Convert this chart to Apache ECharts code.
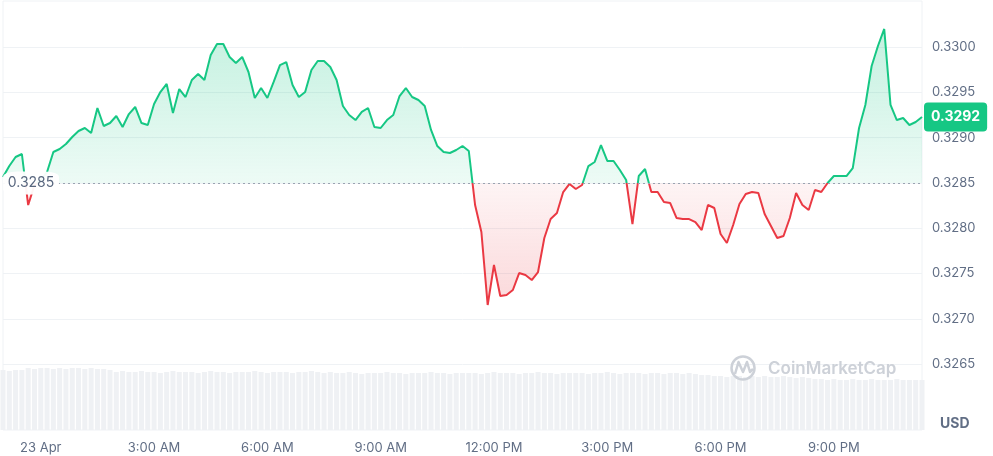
<!DOCTYPE html>
<html>
<head>
<meta charset="utf-8">
<script src="https://cdn.jsdelivr.net/npm/echarts@6/dist/echarts.min.js"></script>
<style>
html,body{margin:0;padding:0;background:#fff;}
#c{width:993px;height:456px;}
</style>
</head>
<body>
<div id="c"></div>
<script>
// ---- data ----
const prices = [
0.328565,0.328686,0.328786,0.328819,0.328256,0.328477,0.328532,0.328620,0.328841,0.328874,
0.328929,0.329007,0.329073,0.329106,0.329051,0.329327,0.329128,0.329161,0.329238,0.329117,
0.329260,0.329338,0.329161,0.329139,0.329371,0.329503,0.329592,0.329271,0.329536,0.329448,
0.329636,0.329702,0.329636,0.329912,0.330033,0.330033,0.329890,0.329823,0.329890,0.329724,
0.329437,0.329547,0.329437,0.329614,0.329801,0.329834,0.329581,0.329448,0.329503,0.329746,
0.329845,0.329845,0.329779,0.329636,0.329349,0.329249,0.329194,0.329283,0.329327,0.329117,
0.329106,0.329194,0.329249,0.329459,0.329547,0.329448,0.329415,0.329349,0.329084,0.328907,
0.328841,0.328830,0.328863,0.328907,0.328852,0.328256,0.327958,0.327152,0.327594,0.327252,
0.327263,0.327318,0.327505,0.327483,0.327428,0.327516,0.327892,0.328101,0.328168,0.328399,
0.328488,0.328433,0.328477,0.328686,0.328731,0.328918,0.328742,0.328742,0.328642,0.328532,
0.328046,0.328576,0.328653,0.328399,0.328399,0.328289,0.328278,0.328113,0.328101,0.328101,
0.328068,0.327980,0.328256,0.328223,0.327936,0.327837,0.328035,0.328267,0.328377,0.328399,
0.328388,0.328157,0.328024,0.327892,0.327914,0.328113,0.328388,0.328256,0.328201,0.328422,
0.328399,0.328499,0.328576,0.328576,0.328576,0.328664,0.329106,0.329360,0.329790,0.330011,
0.330199,0.329360,0.329194,0.329216,0.329139,0.329172,0.329227
];
const volumes = [
60,59,60,60,
62,61,62,62,61,62,61,62,62,61,62,61,61,60,
58,59,58,58,59,58,58,57,58,59,58,58,58,57,58,59,58,58,57,58,58,58,59,58,57,58,58,58,57,58,58,59,58,57,58,
57,57,58,57,56,57,57,57,58,57,57,56,57,57,57,58,57,57,56,57,57,57,57,56,57,58,57,57,57,56,
57,57,58,57,57,56,57,57,57,57,56,57,57,58,57,56,57,57,57,56,57,57,56,57,57,56,57,56,55,
55,54,54,53,54,54,53,54,53,54,53,53,54,53,52,53,
52,51,51,50,51,50,50,51,50,50,51,50,50,50,51,50,50,50,50
];
const basePrice = 0.3285;
const yTicksMin = 0.3260, yTicksMax = 0.3305, yInterval = 0.0005;
const xTickCategories = ['04-23 00:00','04-23 03:00','04-23 06:00','04-23 09:00','04-23 12:00','04-23 15:00','04-23 18:00','04-23 21:00'];
const xTickLabels = ['23 Apr','3:00 AM','6:00 AM','9:00 AM','12:00 PM','3:00 PM','6:00 PM','9:00 PM'];

// categories: 10-minute steps starting 22 Apr 23:00
const times = [];
for (let i = 0; i < prices.length; i++) {
  const m = -60 + 10 * i;
  const day = m < 0 ? 22 : 23;
  const mm = (m + 1440) % 1440;
  const hh = Math.floor(mm / 60), mi = mm % 60;
  times.push('04-' + day + ' ' + String(hh).padStart(2,'0') + ':' + String(mi).padStart(2,'0'));
}

const GREEN = '#16c784', RED = '#ea3943';
const pMax = Math.max(...prices), pMin = Math.min(...prices);
const f = (pMax - basePrice) / (pMax - pMin);
const lastPrice = prices[prices.length - 1];

const chart = echarts.init(document.getElementById('c'), null, {renderer: 'canvas'});
const splitColors = ['rgba(0,0,0,0)'];
for (let i = 0; i < 8; i++) splitColors.push('#eff2f5');
splitColors.push('rgba(0,0,0,0)');

chart.setOption({
  animation: false,
  textStyle: {fontFamily: 'Inter, "Noto Sans", sans-serif'},
  grid: [
    {left: 3, right: 71, top: 1.7, height: 407.7, show: false},
    {left: 3, right: 71, top: 1, bottom: 26, show: true, borderColor: '#eff2f5', borderWidth: 1, backgroundColor: 'transparent'}
  ],
  xAxis: [
    {type: 'category', gridIndex: 0, data: times, boundaryGap: false, show: false},
    {type: 'category', gridIndex: 1, data: times, boundaryGap: false,
      axisLine: {show: false}, axisTick: {show: false},
      axisLabel: {
        color: '#616e85', fontSize: 13, margin: 12,
        interval: function (idx, val) { return xTickCategories.indexOf(val) >= 0; },
        formatter: function (val) { const k = xTickCategories.indexOf(val); return k >= 0 ? xTickLabels[k] : ''; }
      }
    }
  ],
  yAxis: [
    {type: 'value', gridIndex: 0, position: 'right', min: yTicksMin, max: yTicksMax, interval: yInterval,
      axisLine: {show: false}, axisTick: {show: false},
      splitLine: {show: true, lineStyle: {color: splitColors, width: 1}},
      axisLabel: {color: '#616e85', fontSize: 13, margin: 10, align: 'left',
        formatter: function (v) { if (v < 0.32649 || v > 0.33001) return ''; return v.toFixed(4); }}
    },
    {type: 'value', gridIndex: 1, min: 0, max: 429, show: false}
  ],
  visualMap: {
    show: false, type: 'piecewise', seriesIndex: 0, dimension: 1,
    pieces: [{gte: basePrice, lte: yTicksMax, color: GREEN}, {gte: yTicksMin, lt: basePrice, color: RED}],
    outOfRange: {color: GREEN}
  },
  series: [
    {
      type: 'line', xAxisIndex: 0, yAxisIndex: 0, data: prices,
      showSymbol: false, symbol: 'none', z: 3, clip: false,
      lineStyle: {width: 2},
      areaStyle: {
        origin: basePrice,
        color: new echarts.graphic.LinearGradient(0, 0, 0, 1, [
          {offset: 0, color: 'rgba(22,199,132,0.36)'},
          {offset: f, color: 'rgba(22,199,132,0.11)'},
          {offset: f, color: 'rgba(234,57,67,0.08)'},
          {offset: 1, color: 'rgba(234,57,67,0.28)'}
        ])
      },
      markLine: {
        silent: true, symbol: 'none', animation: false, precision: 6,
        data: [
          {yAxis: basePrice, lineStyle: {color: '#9aa3b1', type: [2, 3], width: 1.2}, label: {show: false}},
          {yAxis: lastPrice, lineStyle: {color: 'rgba(0,0,0,0)', width: 1}, label: {
            show: true, position: 'end', distance: 2, formatter: lastPrice.toFixed(4),
            backgroundColor: GREEN, color: '#fff', fontWeight: 'bold', fontSize: 14,
            padding: [8, 7, 7, 7], borderRadius: 4}}
        ]
      },
      markPoint: {
        silent: true, animation: false,
        data: [{coord: [times[0], basePrice], value: basePrice}],
        symbol: 'roundRect', symbolSize: [56, 23], symbolOffset: [28, 0],
        itemStyle: {color: 'rgba(255,255,255,0.95)'},
        label: {show: true, color: '#58667e', fontSize: 14, formatter: basePrice.toFixed(4)}
      }
    },
    {
      type: 'bar', xAxisIndex: 1, yAxisIndex: 1, data: volumes, barWidth: '80%',
      itemStyle: {color: '#eff1f4'}, silent: true, z: 1
    }
  ],
  graphic: [
    {type: 'circle', z: 100, shape: {cx: 743, cy: 368, r: 11.5}, style: {fill: 'none', stroke: '#cdd1d8', lineWidth: 2.5}},
    {type: 'polyline', z: 100, shape: {points: [[735, 374], [738.5, 362], [743, 372], [747, 362], [750, 372], [753, 369]]}, style: {fill: 'none', stroke: '#cdd1d8', lineWidth: 2.5, lineJoin: 'round'}},
    {type: 'text', z: 100, x: 768, y: 369, style: {text: 'CoinMarketCap', fill: '#cdd1d8', font: '600 17px Inter, sans-serif', verticalAlign: 'middle'}},
    {type: 'text', z: 100, x: 940, y: 424, style: {text: 'USD', fill: '#616e85', font: 'bold 14px Inter, sans-serif', verticalAlign: 'middle'}}
  ]
});
</script>
</body>
</html>
